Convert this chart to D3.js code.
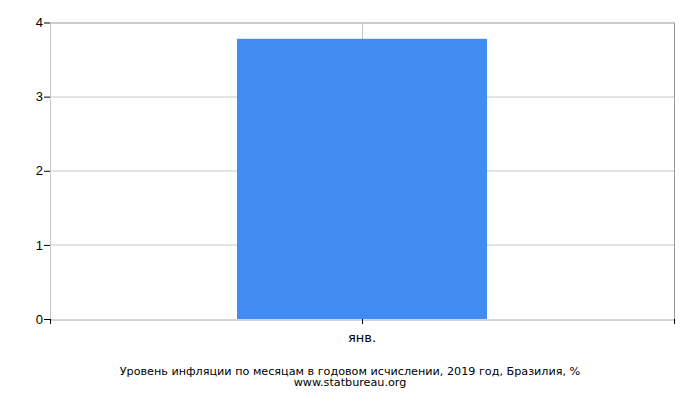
<!DOCTYPE html>
<html>
<head>
<meta charset="utf-8">
<script src="https://cdn.jsdelivr.net/npm/d3@7"></script>
<style>
  body { margin: 0; background: #fff; }
  svg { display: block; font-family: "DejaVu Sans", sans-serif; }
</style>
</head>
<body>
<svg id="chart" width="700" height="400"></svg>
<script>
// Chart data
const months = ["янв."];
const inflation = [3.78];
const yTicks = [0, 1, 2, 3, 4];
const title = "Уровень инфляции по месяцам в годовом исчислении, 2019 год, Бразилия, %";
const source = "www.statbureau.org";

document.addEventListener('DOMContentLoaded', function() {
    const svg = d3.select("#chart");
    const margin = { left: 50, right: 26, top: 22.5, bottom: 81 };
    const width = 700 - margin.left - margin.right;
    const height = 400 - margin.top - margin.bottom;

    const g = svg.append("g")
        .attr("transform", `translate(${margin.left},${margin.top})`);

    const x = d3.scaleBand()
        .domain(months)
        .range([0, width])
        .paddingInner(0)
        .paddingOuter(0.748);

    const y = d3.scaleLinear()
        .domain([0, 4])
        .range([height, 0]);

    // horizontal gridlines
    g.append("g")
        .selectAll("line")
        .data(yTicks)
        .join("line")
        .attr("x1", 0)
        .attr("x2", width)
        .attr("y1", d => Math.round(y(d)) + 0.5)
        .attr("y2", d => Math.round(y(d)) + 0.5)
        .attr("stroke", d => d === 4 ? "#999" : "#c6c6c6");

    // vertical gridlines: left, category center, right
    const vLines = [0, x(months[0]) + x.bandwidth() / 2, width];
    g.append("g")
        .selectAll("line")
        .data(vLines)
        .join("line")
        .attr("x1", d => Math.round(d) + 0.5)
        .attr("x2", d => Math.round(d) + 0.5)
        .attr("y1", 0)
        .attr("y2", height)
        .attr("stroke", (d, i) => i === 2 ? "#999" : "#c6c6c6");

    // bars
    g.append("g")
        .selectAll("rect")
        .data(inflation)
        .join("rect")
        .attr("x", (d, i) => x(months[i]))
        .attr("width", x.bandwidth())
        .attr("y", d => y(d))
        .attr("height", d => y(0) - y(d))
        .attr("fill", "#418cf0");

    // bottom line redrawn over bar
    g.append("line")
        .attr("x1", 0).attr("x2", width)
        .attr("y1", Math.round(height) + 0.5).attr("y2", Math.round(height) + 0.5)
        .attr("stroke", "#c6c6c6");

    // y axis
    const yAxis = g.append("g")
        .call(d3.axisLeft(y).tickValues(yTicks).tickFormat(d3.format("d")).tickSize(6).tickSizeOuter(0));
    yAxis.select(".domain").remove();
    yAxis.selectAll(".tick line").attr("stroke", "#000");
    yAxis.selectAll(".tick text")
        .attr("x", -7)
        .attr("font-size", 13)
        .attr("fill", "#000");

    // x axis ticks at the edges and category center
    const xAxis = g.append("g")
        .attr("transform", `translate(0,${height})`);
    xAxis.selectAll("line")
        .data(vLines)
        .join("line")
        .attr("x1", d => Math.round(d) + 0.5)
        .attr("x2", d => Math.round(d) + 0.5)
        .attr("y1", 0)
        .attr("y2", 5)
        .attr("stroke", "#000");
    xAxis.selectAll("text")
        .data(months)
        .join("text")
        .attr("x", d => x(d) + x.bandwidth() / 2)
        .attr("y", 23)
        .attr("text-anchor", "middle")
        .attr("font-size", 13)
        .attr("fill", "#000")
        .text(d => d);

    // caption
    svg.append("text")
        .attr("x", 350)
        .attr("y", 374.5)
        .attr("text-anchor", "middle")
        .attr("font-size", 11.2)
        .attr("fill", "#000")
        .text(title);
    svg.append("text")
        .attr("x", 350)
        .attr("y", 386)
        .attr("text-anchor", "middle")
        .attr("font-size", 11.2)
        .attr("fill", "#000")
        .text(source);
});
</script>
</body>
</html>
